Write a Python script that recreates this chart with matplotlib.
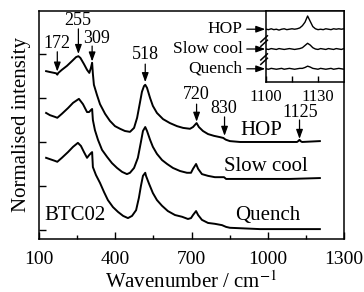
import matplotlib
matplotlib.use("Agg")
import matplotlib.pyplot as plt

plt.rcParams['font.family'] = ['Liberation Serif', 'DejaVu Serif']
plt.rcParams['mathtext.fontset'] = 'stix'

# ---------------- data ----------------
hop_wn = [128, 143, 160, 168, 172, 176, 190, 210, 230, 246, 255, 263, 277, 289, 298, 304, 309, 312, 316,
          328, 340, 360, 379, 399, 419, 438, 458, 474, 486, 497, 505, 513, 518, 525, 537, 548, 564, 588,
          615, 643, 667, 694, 706, 720, 729, 745, 765, 788, 812, 826, 830, 836, 851, 891, 969, 1048,
          1115, 1120, 1125, 1129, 1135, 1205]
hop_int = [3.61, 3.59, 3.57, 3.56, 3.53, 3.57, 3.64, 3.73, 3.84, 3.93, 3.95, 3.91, 3.77, 3.64, 3.57, 3.68,
           3.80, 3.55, 3.30, 3.07, 2.86, 2.64, 2.48, 2.36, 2.30, 2.25, 2.23, 2.32, 2.55, 2.89, 3.14, 3.27,
           3.30, 3.23, 3.00, 2.82, 2.66, 2.52, 2.43, 2.36, 2.32, 2.30, 2.34, 2.43, 2.34, 2.25, 2.18, 2.14,
           2.11, 2.09, 2.07, 2.05, 2.02, 2.00, 2.00, 2.00, 2.00, 2.02, 2.05, 2.02, 2.00, 2.02]

slow_wn = [128, 143, 163, 172, 176, 190, 214, 234, 257, 273, 289, 297, 305, 309, 312, 320, 332, 348, 368,
           387, 407, 427, 446, 458, 474, 489, 501, 509, 518, 525, 537, 548, 564, 584, 604, 627, 655, 682,
           698, 706, 718, 726, 741, 765, 792, 820, 828, 836, 859, 969, 1087, 1205]
slow_int = [2.66, 2.61, 2.57, 2.55, 2.57, 2.64, 2.77, 2.89, 2.98, 2.86, 2.68, 2.68, 2.73, 2.75, 2.50, 2.27,
            2.05, 1.82, 1.66, 1.52, 1.41, 1.32, 1.27, 1.30, 1.41, 1.64, 2.00, 2.25, 2.34, 2.25, 2.05, 1.89,
            1.73, 1.59, 1.50, 1.41, 1.34, 1.30, 1.30, 1.39, 1.50, 1.39, 1.27, 1.23, 1.20, 1.20, 1.20, 1.16,
            1.16, 1.16, 1.16, 1.18]

quench_wn = [128, 143, 163, 172, 176, 190, 214, 234, 253, 265, 277, 289, 297, 305, 309, 312, 324, 340, 356,
             371, 391, 411, 431, 450, 466, 482, 493, 501, 509, 518, 521, 533, 548, 564, 584, 607, 635, 663,
             686, 698, 706, 718, 726, 741, 765, 792, 820, 836, 851, 969, 1087, 1205]
quench_int = [1.64, 1.61, 1.57, 1.55, 1.57, 1.64, 1.77, 1.89, 1.98, 1.91, 1.77, 1.64, 1.70, 1.75, 1.77, 1.43,
              1.25, 1.07, 0.86, 0.68, 0.52, 0.41, 0.32, 0.27, 0.32, 0.45, 0.73, 1.00, 1.23, 1.30, 1.23, 1.05,
              0.84, 0.68, 0.55, 0.43, 0.34, 0.30, 0.25, 0.27, 0.34, 0.43, 0.34, 0.23, 0.16, 0.14, 0.11, 0.07,
              0.05, 0.02, 0.02, 0.02]

inset_wn = [1100, 1101.5, 1103, 1104.5, 1106, 1107.5, 1109, 1110.5, 1112, 1113.5, 1115, 1116.5, 1118,
            1119.5, 1121, 1122.5, 1124, 1125.5, 1127, 1128.5, 1130, 1131.5, 1133, 1134.5, 1136, 1137.5,
            1139, 1140.5, 1142, 1143.5, 1145]
inset_hop = [1.20, 1.19, 1.21, 1.19, 1.20, 1.18, 1.20, 1.21, 1.19, 1.20, 1.21, 1.20, 1.21, 1.23, 1.28, 1.36,
             1.50, 1.38, 1.26, 1.21, 1.19, 1.20, 1.19, 1.21, 1.20, 1.19, 1.21, 1.20, 1.21, 1.20, 1.21]
inset_slow = [0.75, 0.74, 0.76, 0.75, 0.74, 0.76, 0.75, 0.74, 0.75, 0.76, 0.75, 0.74, 0.75, 0.76, 0.78, 0.83,
              0.88, 0.84, 0.78, 0.75, 0.74, 0.76, 0.75, 0.74, 0.76, 0.75, 0.74, 0.76, 0.75, 0.74, 0.76]
inset_quench = [0.30, 0.29, 0.31, 0.30, 0.29, 0.30, 0.31, 0.29, 0.30, 0.31, 0.30, 0.29, 0.30, 0.31, 0.31, 0.33,
                0.36, 0.34, 0.31, 0.30, 0.29, 0.31, 0.30, 0.29, 0.30, 0.31, 0.29, 0.30, 0.31, 0.30, 0.29]

peak_labels = ['172', '255', '309', '518', '720', '830', '1125']
peak_wn = [172, 255, 309, 518, 720, 830, 1125]
peak_text_xy = [(171, 4.23), (253, 4.75), (326, 4.36), (517, 3.98), (718, 3.07), (826, 2.77), (1127, 2.68)]
peak_arrow_from = [4.05, 4.57, 4.18, 3.77, 2.86, 2.57, 2.50]
peak_arrow_to = [3.60, 4.00, 3.83, 3.36, 2.46, 2.14, 2.07]

curve_labels = ['HOP', 'Slow cool', 'Quench']
curve_label_xy = [(973, 2.25), (993, 1.45), (1001, 0.32)]
inset_label_y = [1.20, 0.75, 0.30]

# ---------------- figure ----------------
W, H = 364, 292
fig = plt.figure(figsize=(W / 100, H / 100), dpi=100)
ax = fig.add_axes([39 / W, 53 / H, 305 / W, 228 / H])

lw = 1.4
for x, y in [(hop_wn, hop_int), (slow_wn, slow_int), (quench_wn, quench_int)]:
    ax.plot(x, y, color='k', lw=lw, solid_joinstyle='round')

ax.set_xlim(100, 1300)
ax.set_ylim(-0.205, 4.977)
ax.set_xticks([100, 400, 700, 1000, 1300])
ax.set_xticks([250, 550, 850, 1150], minor=True)
ax.set_yticks([0, 1, 2, 3, 4])
ax.set_yticklabels([])
ax.tick_params(axis='both', which='both', direction='in', top=False, right=False)
ax.tick_params(axis='x', which='major', length=5, width=1, labelsize=14, pad=9)
ax.tick_params(axis='x', which='minor', length=3, width=1)
ax.tick_params(axis='y', which='major', length=5, width=1)
for s in ax.spines.values():
    s.set_linewidth(1.1)

ax.set_xlabel('Wavenumber / cm$^{-1}$', fontsize=15, labelpad=2)
ax.set_ylabel('Normalised intensity', fontsize=15, labelpad=2)

arrowprops = dict(arrowstyle='-|>,head_length=0.55,head_width=0.2', color='k', lw=0.9,
                  shrinkA=0, shrinkB=0, mutation_scale=10)
for lab, wn, txy, y0, y1 in zip(peak_labels, peak_wn, peak_text_xy, peak_arrow_from, peak_arrow_to):
    ax.text(txy[0], txy[1], lab, fontsize=13, ha='center', va='center')
    ax.annotate('', xy=(wn, y1), xytext=(wn, y0), arrowprops=arrowprops)

for lab, (x, y) in zip(curve_labels, curve_label_xy):
    ax.text(x, y, lab, fontsize=15, ha='center', va='center')
ax.text(242, 0.32, 'BTC02', fontsize=15, ha='center', va='center')

# ---------------- inset ----------------
ins = fig.add_axes([266 / W, (H - 82) / H, 78 / W, 71 / H])
ins.set_facecolor('white')
for y in [inset_hop, inset_slow, inset_quench]:
    ins.plot(inset_wn, y, color='k', lw=1.0)
ins.set_xlim(1100, 1145)
ins.set_ylim(0, 1.614)
ins.set_xticks([1100, 1130])
ins.set_xticks([1115], minor=True)
ins.set_yticks([])
ins.tick_params(axis='x', which='both', direction='in', length=4, width=1, labelsize=12, pad=5)
for s in ins.spines.values():
    s.set_linewidth(1.1)

inset_arrow = dict(arrowstyle='-|>,head_length=0.55,head_width=0.2', color='k', lw=0.9,
                   shrinkA=1, shrinkB=0, mutation_scale=10)
for lab, y in zip(curve_labels, inset_label_y):
    ins.annotate(lab, xy=(1099.6, y), xytext=(1086.5, y), fontsize=12.5, ha='right', va='center',
                 arrowprops=inset_arrow, annotation_clip=False)

# break marks on the inset's left spine
for yc in [0.93, 0.52]:
    for dy in [-0.05, 0.05]:
        ins.plot([1097.0, 1100.8], [yc + dy - 0.07, yc + dy + 0.07], color='k', lw=1.1, clip_on=False)

fig.savefig('out.png', dpi=100)
